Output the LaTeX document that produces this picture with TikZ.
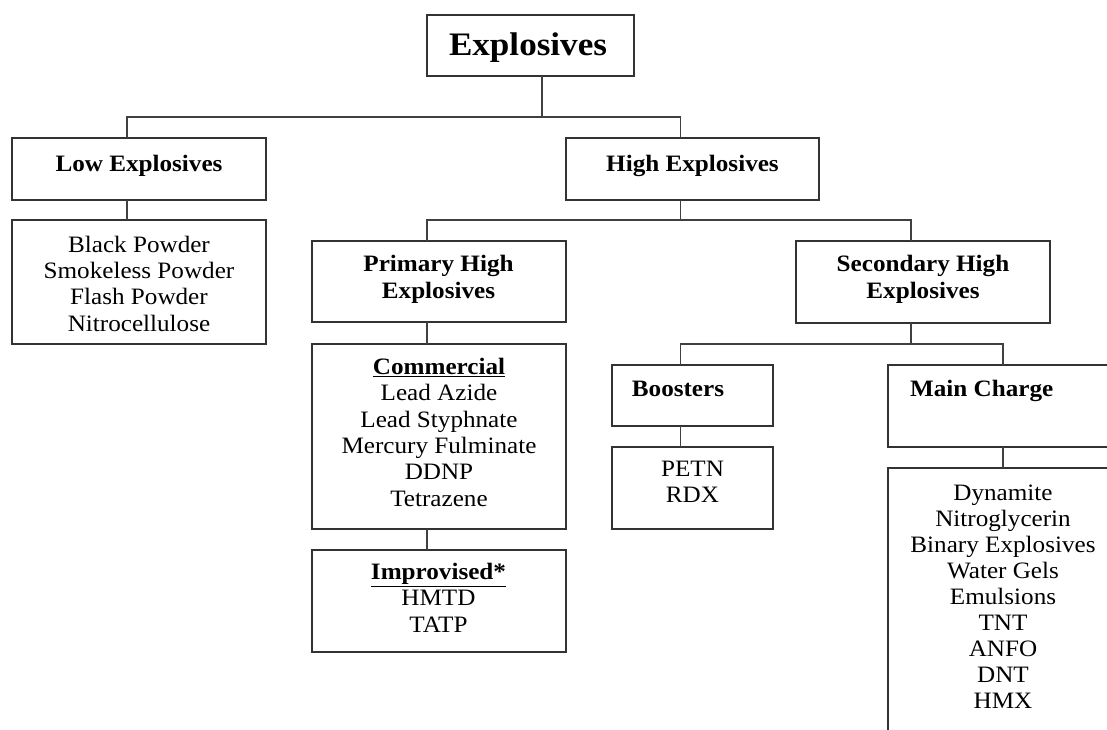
\documentclass[tikz,border=0pt]{standalone}
\usepackage{fontspec}
\setmainfont{Liberation Serif}[FakeStretch=1.07]
\tikzset{
  box/.style={draw=black!80, line width=1.6pt, rectangle, inner sep=0pt, outer sep=0pt, anchor=north west},
  conn/.style={draw=black!75, line width=1.6pt},
  txt/.style={font=\fontsize{23.5}{26.3}\selectfont, align=center, anchor=base, inner sep=0pt},
  hd/.style={font=\fontsize{23.5}{26.3}\selectfont\bfseries, align=center, anchor=base, inner sep=0pt},
}
\begin{document}
\begin{tikzpicture}
\useasboundingbox (0,0) rectangle (1107pt,-729pt);
\clip (0,0) rectangle (1107pt,-729pt);
\fill[white] (0,0) rectangle (1107pt,-729pt);
% boxes
\node[box, minimum width=207pt, minimum height=61pt] (root) at (427pt,-15pt) {};
\node[box, minimum width=254pt, minimum height=62pt] (low) at (12pt,-138pt) {};
\node[box, minimum width=253pt, minimum height=62pt] (high) at (566pt,-138pt) {};
\node[box, minimum width=254pt, minimum height=124pt] (lowlist) at (12pt,-220pt) {};
\node[box, minimum width=254pt, minimum height=81pt] (primary) at (312pt,-241pt) {};
\node[box, minimum width=254pt, minimum height=82pt] (secondary) at (796pt,-241pt) {};
\node[box, minimum width=254pt, minimum height=185pt] (commercial) at (312pt,-344pt) {};
\node[box, minimum width=254pt, minimum height=102pt] (improvised) at (312pt,-550pt) {};
\node[box, minimum width=161pt, minimum height=61pt] (boosters) at (612pt,-365pt) {};
\node[box, minimum width=161pt, minimum height=82pt] (petn) at (612pt,-447pt) {};
\node[box, minimum width=254pt, minimum height=82pt] (main) at (888pt,-365pt) {};
\node[box, minimum width=254pt, minimum height=300pt] (mainlist) at (888pt,-468pt) {};
% texts (anchor = baseline of the last line)
\node[hd, font=\fontsize{32.8}{36}\selectfont\bfseries] (rootT) at (528pt,-55pt) {Explosives};
\node[hd] (lowT) at (139pt,-171pt) {Low Explosives};
\node[hd] (highT) at (692.5pt,-171pt) {High Explosives};
\node[txt] (lowlistT) at (139pt,-331pt) {Black Powder\\Smokeless Powder\\Flash Powder\\Nitrocellulose};
\node[hd] (primaryT) at (438.5pt,-298pt) {Primary High\\Explosives};
\node[hd] (secondaryT) at (923pt,-298pt) {Secondary High\\Explosives};
\node[txt] (commercialT) at (439pt,-506pt) {\textbf{\underline{Commercial}}\\Lead Azide\\Lead Styphnate\\Mercury Fulminate\\DDNP\\Tetrazene};
\node[txt] (improvisedT) at (438.5pt,-632pt) {\textbf{\underline{Improvised*}}\\HMTD\\TATP};
\node[hd] (boostersT) at (678pt,-396pt) {Boosters};
\node[txt] (petnT) at (692.5pt,-502.7pt) {PETN\\RDX};
\node[hd] (mainT) at (981.7pt,-396pt) {Main Charge};
\node[txt, font=\fontsize{23.5}{26}\selectfont] (mainlistT) at (1003pt,-708pt) {Dynamite\\Nitroglycerin\\Binary Explosives\\Water Gels\\Emulsions\\TNT\\ANFO\\DNT\\HMX};
% connectors
\coordinate (b1) at (542pt,-117pt);
\coordinate (b2) at (0pt,-220pt);
\coordinate (b3) at (0pt,-344pt);
\coordinate (sN) at ([xshift=-12pt]secondary.north);
\coordinate (mN) at ([xshift=-12pt]main.north);
\draw[conn] (root.south -| b1) -- (b1);
\draw[conn] ([xshift=-12pt]low.north) |- (b1) -| ([xshift=-12pt]high.north);
\draw[conn] ([xshift=-12pt]low.south) -- ([xshift=-12pt]lowlist.north);
\draw[conn] ([xshift=-12pt]high.south) -- ([xshift=-12pt]high.south |- b2);
\draw[conn] ([xshift=-12pt]primary.north) |- (b2 -| sN) -- (sN);
\draw[conn] ([xshift=-12pt]primary.south) -- ([xshift=-12pt]commercial.north);
\draw[conn] ([xshift=-12pt]commercial.south) -- ([xshift=-12pt]improvised.north);
\draw[conn] ([xshift=-12pt]secondary.south) -- ([xshift=-12pt]secondary.south |- b3);
\draw[conn] ([xshift=-12pt]boosters.north) |- (b3 -| mN) -- (mN);
\draw[conn] ([xshift=-12pt]boosters.south) -- ([xshift=-12pt]petn.north);
\draw[conn] ([xshift=-12pt]main.south) -- ([xshift=-12pt]mainlist.north);
\end{tikzpicture}
\end{document}
